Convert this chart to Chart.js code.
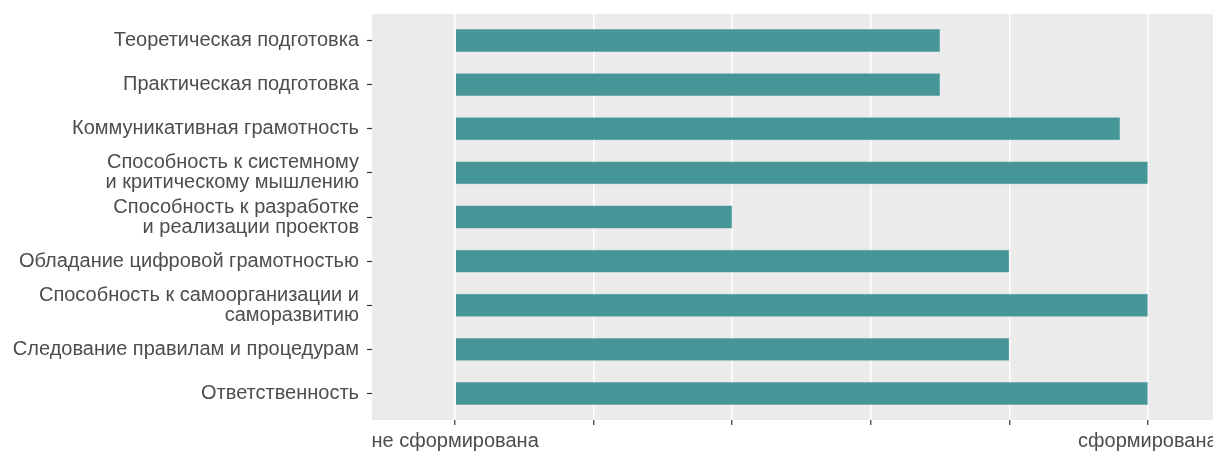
<!DOCTYPE html>
<html>
<head>
<meta charset="utf-8">
<script src="https://cdn.jsdelivr.net/npm/chart.js@4/dist/chart.umd.min.js"></script>
<style>
  html, body { margin: 0; padding: 0; background: #fff; overflow: hidden; }
  #wrap { width: 1231px; height: 452px; }
</style>
</head>
<body>
<div id="wrap"><canvas id="skillsChart"></canvas></div>
<script>
// categories, top to bottom
const categories = [
  ["Теоретическая подготовка"],
  ["Практическая подготовка"],
  ["Коммуникативная грамотность"],
  ["Способность к системному", "и критическому мышлению"],
  ["Способность к разработке", "и реализации проектов"],
  ["Обладание цифровой грамотностью"],
  ["Способность к самоорганизации и", "саморазвитию"],
  ["Следование правилам и процедурам"],
  ["Ответственность"],
];
const values = [3.5, 3.5, 4.8, 5, 2, 4, 5, 4, 5];
const xTicks = [0, 1, 2, 3, 4, 5];
const xTickLabels = ["не сформирована", "", "", "", "", "сформирована"];

const textColor = "#4d4d4d";
const font = { family: "'Liberation Sans', Arial, sans-serif", size: 20 };

const panelBg = {
  id: "panelBg",
  beforeDraw(chart) {
    const { ctx, chartArea } = chart;
    ctx.save();
    ctx.fillStyle = "#ebebeb";
    ctx.fillRect(chartArea.left, chartArea.top, chartArea.right - chartArea.left, chartArea.bottom - chartArea.top);
    ctx.restore();
  },
};

const ctx = document.getElementById("skillsChart").getContext("2d");

new Chart(ctx, {
  type: "bar",
  data: {
    datasets: [
      {
        data: values.map((v, i) => ({ x: v, y: i })),
        backgroundColor: "#469597",
        borderColor: "#5fa3a5",
        borderWidth: 0.5,
        categoryPercentage: 1,
        barPercentage: 0.52,
      },
    ],
  },
  plugins: [panelBg],
  options: {
    indexAxis: "y",
    responsive: true,
    maintainAspectRatio: false,
    animation: false,
    layout: { padding: { top: 14, right: 0, bottom: 0, left: 0 } },
    plugins: {
      legend: { display: false },
      tooltip: { enabled: false },
    },
    scales: {
      x: {
        type: "linear",
        min: -0.6,
        max: 5.6,
        afterBuildTicks: (scale) => {
          scale.ticks = xTicks.map((v) => ({ value: v }));
        },
        afterFit: (scale) => {
          scale.height = 32;
          scale.paddingLeft = 0;
          scale.paddingRight = 0;
        },
        ticks: {
          autoSkip: false,
          maxRotation: 0,
          padding: 4,
          color: textColor,
          font,
          callback: (v) => xTickLabels[xTicks.indexOf(v)],
        },
        grid: {
          color: "#ffffff",
          lineWidth: 1.5,
          drawTicks: true,
          tickLength: 5,
          tickColor: "#333333",
          tickWidth: 1.2,
        },
        border: { display: false },
      },
      y: {
        type: "linear",
        reverse: true,
        offset: false,
        min: -0.6,
        max: categories.length - 1 + 0.6,
        afterBuildTicks: (scale) => {
          scale.ticks = categories.map((c, i) => ({ value: i }));
        },
        afterFit: (scale) => {
          scale.width = 372;
          scale.paddingTop = 0;
          scale.paddingBottom = 0;
        },
        ticks: {
          autoSkip: false,
          padding: 8,
          color: textColor,
          font: { ...font, lineHeight: 1.0 },
          callback: (v) => categories[v],
        },
        grid: {
          offset: false,
          drawOnChartArea: false,
          drawTicks: true,
          tickLength: 5,
          tickColor: "#333333",
          tickWidth: 1.2,
        },
        border: { display: false },
      },
    },
  },
});
</script>
</body>
</html>
